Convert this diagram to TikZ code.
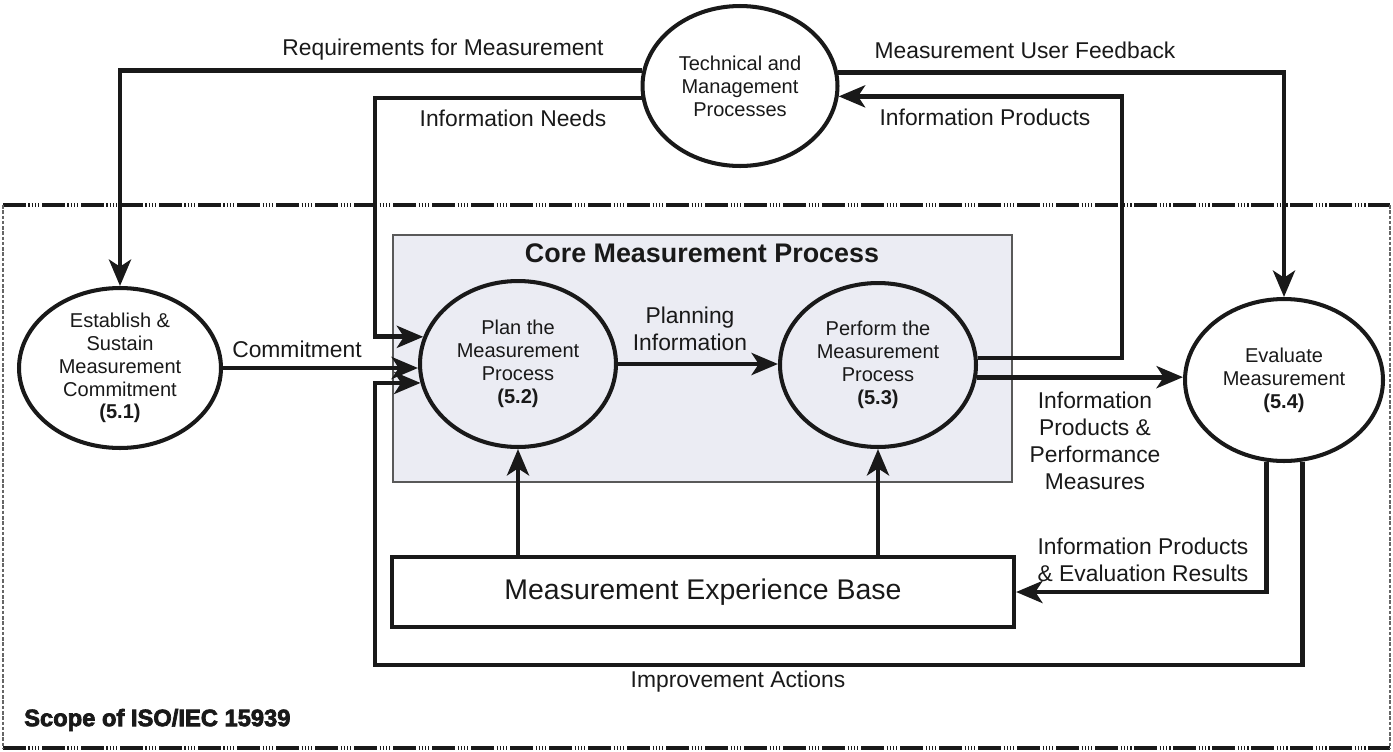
\documentclass[tikz,border=0pt]{standalone}
\usepackage{fontspec}
\setmainfont{Liberation Sans}
\newfontfamily\scopefont{Liberation Sans}[BoldFeatures={FakeBold=3}]
\usetikzlibrary{positioning,arrows.meta,shapes.geometric,calc}

\definecolor{ink}{RGB}{25,25,25}
\definecolor{coreblue}{RGB}{235,236,243}

\tikzset{
  process/.style={ellipse, draw=ink, line width=2.3pt, inner sep=0pt, align=center,
    text=ink, font=\fontsize{11.4}{13}\selectfont},
  flow/.style={draw=ink, line width=2.7pt, -{Stealth[length=15pt,width=12.5pt,inset=4pt]}},
  lbl/.style={align=center, inner sep=0pt, text=ink, font=\fontsize{13}{15.3}\selectfont},
  corebox/.style={draw=black!65, line width=0.8pt, fill=coreblue, inner sep=0pt},
  basebox/.style={draw=ink, line width=2.4pt, inner sep=0pt, text=ink,
    font=\fontsize{16.2}{19}\selectfont},
  scopeedge/.style={draw=ink, line width=1.8pt,
    dash pattern=on 13pt off 1.5pt on 0.8pt off 1pt on 0.8pt off 1pt on 0.8pt off 1pt on 0.8pt off 1.5pt},
  scopeside/.style={draw=black!60, line width=0.7pt, dash pattern=on 2pt off 1pt}
}

\begin{document}
\begin{tikzpicture}[x=0.02cm, y=-0.02cm]
  \useasboundingbox (0,0) rectangle (1393,751);

  % scope of the standard
  \draw[scopeedge] (3,205) -- (1390,205);
  \draw[scopeedge] (3,748) -- (1390,748);
  \draw[scopeside] (3,205) -- (3,748);
  \draw[scopeside] (1390,205) -- (1390,748);
  \node[anchor=west, text=ink, font=\scopefont\bfseries\fontsize{13.5}{16}\selectfont] (scopelabel) at (18,720) {Scope of ISO/IEC 15939};

  % core process
  \node[corebox, minimum width=12.38cm, minimum height=4.94cm] (core) at (702.5,358.5) {};
  \node[lbl, font=\fontsize{15.3}{18}\selectfont\bfseries] (coretitle) at (702,253) {Core Measurement Process};

  \node[process, minimum width=3.9cm, minimum height=3.2cm] (tmp) at (740,86) {Technical and\\Management\\Processes};
  \node[process, minimum width=4.04cm, minimum height=3.2cm] (esc) at (120,368) {Establish \&\\Sustain\\Measurement\\Commitment\\\textbf{(5.1)}};
  \node[process, minimum width=3.92cm, minimum height=3.32cm] (plan) at (518,364) {Plan the\\Measurement\\Process\\\textbf{(5.2)}};
  \node[process, minimum width=3.92cm, minimum height=3.28cm] (perform) at (878,365) {Perform the\\Measurement\\Process\\\textbf{(5.3)}};
  \node[process, minimum width=3.96cm, minimum height=3.24cm] (eval) at (1284,380) {Evaluate\\Measurement\\\textbf{(5.4)}};
  \node[basebox, minimum width=12.44cm, minimum height=1.4cm] (base) at (703,592) {Measurement Experience Base};

  \coordinate (needsrail) at (375,200);
  \coordinate (productsrail) at (1122,200);
  \coordinate (improverail) at (375,665);

  % connectors
  \draw[flow] (tmp.171.7) -| (esc.north);
  \draw[flow] (tmp.187.7) -| (needsrail) |- (plan.164.4);
  \draw[flow] (tmp.8.3) -| (eval.north);
  \draw[flow] (perform.4.7) -| (productsrail) |- (tmp.354.1);
  \draw[flow] (esc.east) -- (esc.east -| plan.west);
  \draw[flow] (plan.east) -- (plan.east -| perform.west);
  \draw[flow] (perform.-7.6) -- (perform.-7.6 -| eval.west);
  \draw[flow] (eval.258.7) |- (base.east);
  \draw[flow] (eval.283.4) |- (improverail) |- (plan.191.3);
  \draw[flow] (plan.south |- base.north) -- (plan.south);
  \draw[flow] (perform.south |- base.north) -- (perform.south);

  % labels
  \node[lbl] (reqlabel) at (443,50) {Requirements for Measurement};
  \node[lbl] (feedbacklabel) at (1025,50) {Measurement User Feedback};
  \node[lbl] (needslabel) at (513,118) {Information Needs};
  \node[lbl] (productslabel) at (985,117) {Information Products};
  \node[lbl] (commitlabel) at (297,349) {Commitment};
  \node[lbl] (planninglabel) at (690,329) {Planning\\Information};
  \node[lbl] (perflabel) at (1095,441) {Information\\Products \&\\Performance\\Measures};
  \node[lbl] (evallabel) at (1143,560) {Information Products\\\& Evaluation Results};
  \node[lbl] (improvelabel) at (738,682) {Improvement Actions};
\end{tikzpicture}
\end{document}
